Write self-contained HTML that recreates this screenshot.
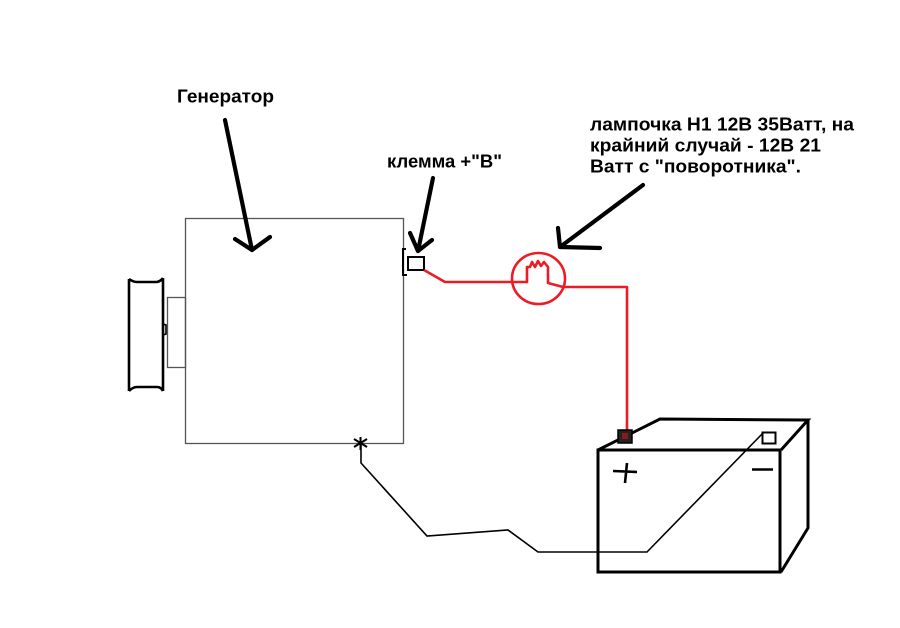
<!DOCTYPE html>
<html>
<head>
<meta charset="utf-8">
<style>
html,body{margin:0;padding:0;background:#fff;}
svg{display:block;}
text{font-family:"Liberation Sans","Noto Sans CJK SC",sans-serif;font-weight:bold;font-size:18px;fill:#000;}
</style>
</head>
<body>
<svg width="900" height="628" viewBox="0 0 900 628" xmlns="http://www.w3.org/2000/svg">
<rect x="0" y="0" width="900" height="628" fill="#fff"/>

<!-- Generator body -->
<rect x="185.5" y="218.5" width="218" height="225" fill="none" stroke="#555" stroke-width="1.3"/>
<!-- shaft -->
<rect x="167.5" y="297.5" width="18" height="70" fill="none" stroke="#555" stroke-width="1.3"/>
<!-- pulley -->
<path d="M129,279 L129,391 M163,278 L163,391 M129,279 Q133,282 137,282 L157,282 Q161,281 163,278 M129,391 Q133,387 137,387 L157,387 Q161,387 163,391" fill="none" stroke="#000" stroke-width="2.6"/>
<path d="M163,324 L166,325 L166,334 L163,335" fill="none" stroke="#000" stroke-width="1.6"/>

<!-- +B terminal -->
<path d="M406,249 L403,249 L403,275 L407,275" fill="none" stroke="#000" stroke-width="2"/>
<rect x="408" y="257" width="16" height="13" fill="none" stroke="#000" stroke-width="2"/>

<!-- red wires & lamp -->
<g fill="none" stroke="#ec1c24" stroke-width="2.6" stroke-linejoin="round">
<polyline points="424,270 445,282 527,282 527,267 530,267 532,262 535,267 538,261 541,266 544,262 548,267 548,283 563,287 627,287 627,430"/>
<ellipse cx="538.5" cy="278.5" rx="26.5" ry="25.5"/>
</g>

<!-- Battery -->
<g fill="none" stroke="#000" stroke-width="3" stroke-linejoin="miter">
<rect x="598" y="450" width="182" height="122"/>
<polyline points="598,450 660,419 808,420 781,450"/>
<polyline points="808,420 808,528 781,572"/>
</g>
<rect x="618" y="430" width="14" height="13" fill="#222" stroke="#000" stroke-width="1.5"/>
<rect x="622" y="433" width="6" height="6" fill="#8a1a1a"/>
<rect x="762.5" y="432.5" width="13" height="11" fill="none" stroke="#000" stroke-width="2"/>
<!-- plus / minus -->
<path d="M613,471 L637,472 M627,463 L625,483" stroke="#000" stroke-width="2.6" fill="none"/>
<path d="M752,469.5 L773,469.5" stroke="#000" stroke-width="2.6" fill="none"/>

<!-- ground wire -->
<polyline points="763,433 647,552 538,552 508,530 427,536 361,463 361,445" fill="none" stroke="#000" stroke-width="1.6"/>
<path d="M354,439 L367,447 M354,447 L367,439 M360.5,437 L360.5,450" stroke="#000" stroke-width="2" fill="none"/>

<!-- arrows -->
<g fill="none" stroke="#000" stroke-width="4.2" stroke-linecap="round" stroke-linejoin="round">
<line x1="225" y1="120" x2="252" y2="250"/>
<polyline points="235,239 252,250 270,237"/>
<line x1="433" y1="178" x2="418" y2="251"/>
<polyline points="410,233 418,251 432,240"/>
<line x1="643" y1="185" x2="560" y2="247"/>
<polyline points="558,228 560,247 600,248"/>
</g>

<!-- labels -->
<text x="177" y="102.5" textLength="97" lengthAdjust="spacingAndGlyphs">Генератор</text>
<text x="387" y="167.5" textLength="115" lengthAdjust="spacingAndGlyphs">клемма +"В"</text>
<text x="590" y="130.5" textLength="264" lengthAdjust="spacingAndGlyphs">лампочка Н1 12В 35Ватт, на</text>
<text x="590" y="151.5" textLength="231" lengthAdjust="spacingAndGlyphs">крайний случай - 12В 21</text>
<text x="590" y="172.5" textLength="211" lengthAdjust="spacingAndGlyphs">Ватт с "поворотника".</text>
</svg>
</body>
</html>
